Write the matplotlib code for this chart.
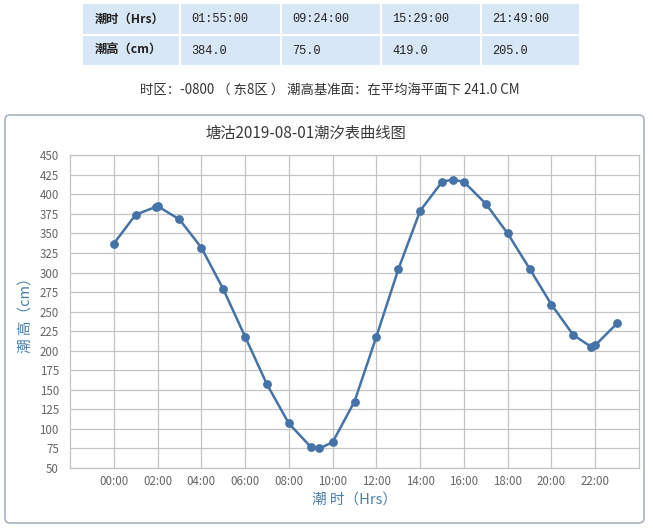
""" Tide curve for Tanggu, 2019-08-01 """

import matplotlib
matplotlib.use("Agg")
import matplotlib.pyplot as plt
from matplotlib.patches import Rectangle, FancyBboxPatch

plt.rcParams['font.family'] = ['Noto Sans CJK SC', 'DejaVu Sans']

# high / low water table
row_heads = ['潮时（Hrs）', '潮高（cm）']
ext_times = ['01:55:00', '09:24:00', '15:29:00', '21:49:00']
ext_heights = ['384.0', '75.0', '419.0', '205.0']

# hourly heights with the extremes slotted in (hours since 00:00)
hours = [0, 1, 1.917, 2, 3, 4, 5, 6, 7, 8, 9, 9.4, 10, 11, 12, 13,
         14, 15, 15.483, 16, 17, 18, 19, 20, 21, 21.817, 22, 23]
heights = [337, 374, 384, 385, 368, 332, 279, 218, 157, 107, 77, 75, 83, 135, 218, 304,
           379, 416, 419, 416, 388, 350, 305, 259, 220, 205, 207, 235]

xtick_hours = list(range(0, 24, 2))
xtick_labels = ['{:02d}:00'.format(h) for h in xtick_hours]
ytick_vals = list(range(50, 451, 25))

W, H = 653, 531
fig = plt.figure(figsize=(W / 100, H / 100), dpi=100)

# background layer in pixel coords: table, note line, chart frame
bg = fig.add_axes([0, 0, 1, 1], zorder=0)
bg.set_xlim(0, W)
bg.set_ylim(H, 0)
bg.axis('off')

col_edges = [82, 180, 281, 381, 481, 580]
row_edges = [3, 35, 66]
cell_fill = '#d8e7f5'
rows = [[row_heads[0]] + ext_times, [row_heads[1]] + ext_heights]
for r in range(2):
	for c in range(5):
		x0, x1 = col_edges[c], col_edges[c + 1]
		y0, y1 = row_edges[r], row_edges[r + 1]
		bg.add_patch(Rectangle((x0, y0), x1 - x0, y1 - y0, facecolor=cell_fill,
			edgecolor='white', linewidth=1.5))
		bg.text(x0 + (13 if c == 0 else 11), (y0 + y1) / 2, rows[r][c], ha='left', va='center',
			fontsize=8.8 if c == 0 else 8.6, color='#222222', fontweight='bold' if c == 0 else 'normal',
			family=['Noto Sans CJK SC', 'DejaVu Sans'] if c == 0 else ['Liberation Mono', 'Noto Sans CJK SC'])

bg.text(330, 90, '时区：-0800 （ 东8区 ） 潮高基准面：在平均海平面下 241.0 CM',
	ha='center', va='center', fontsize=9.6, color='#333333')

bg.add_patch(FancyBboxPatch((5, 115), 639, 408, boxstyle='round,pad=0,rounding_size=5',
	facecolor='white', edgecolor='#a9b4be', linewidth=1.2))

bg.text(306, 133, '塘沽2019-08-01潮汐表曲线图', ha='center', va='center',
	fontsize=11, color='#3a3a3a')

# the chart itself
left, right, top, bottom = 70, 639, 155.3, 468
ax = fig.add_axes([left / W, 1 - bottom / H, (right - left) / W, (bottom - top) / H], zorder=1)
ax.set_facecolor('white')
ax.plot(hours, heights, color='#4572a7', linewidth=1.8, marker='o', markersize=5.3,
	markerfacecolor='#4572a7', markeredgecolor='#4572a7', zorder=3, clip_on=False)

ax.set_xlim(-2, 24)
ax.set_ylim(50, 450)
ax.set_xticks(xtick_hours)
ax.set_xticklabels(xtick_labels)
ax.set_yticks(ytick_vals)
ax.set_yticklabels([str(v) for v in ytick_vals])
ax.tick_params(axis='both', length=0, labelsize=8.3, labelcolor='#666666')
ax.tick_params(axis='x', pad=5)
ax.tick_params(axis='y', pad=8)
ax.grid(True, color='#c4c4c4', linewidth=0.9, zorder=0)
ax.set_axisbelow(True)
for s in ax.spines.values():
	s.set_color('#c4c4c4')
	s.set_linewidth(0.9)

ax.set_xlabel('潮 时（Hrs）', fontsize=10.5, color='#4a7fa8', labelpad=3)
ax.set_ylabel('潮 高（cm）', fontsize=10.5, color='#4a7fa8', labelpad=5)

fig.savefig('out.png', dpi=100)
